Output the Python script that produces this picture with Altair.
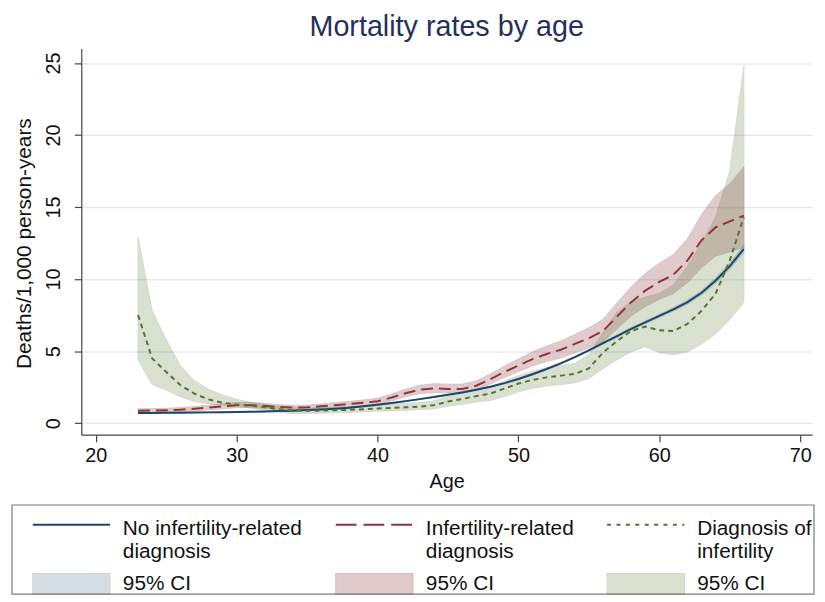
import altair as alt
import pandas as pd

# ---------------- data ----------------
ages = list(range(23, 67))

none_rate = [0.70, 0.71, 0.72, 0.73, 0.74, 0.75, 0.76, 0.77, 0.79, 0.81, 0.84, 0.87, 0.91,
             0.95, 1.00, 1.07, 1.17, 1.28, 1.40, 1.53, 1.67, 1.82, 1.97, 2.13, 2.32, 2.53,
             2.78, 3.07, 3.40, 3.76, 4.15, 4.58, 5.05, 5.55, 6.05, 6.55, 7.00, 7.45, 7.90,
             8.40, 9.05, 9.90, 10.90, 12.10]
none_lo = [0.67, 0.68, 0.69, 0.70, 0.71, 0.72, 0.73, 0.74, 0.76, 0.78, 0.81, 0.84, 0.88,
           0.92, 0.97, 1.04, 1.14, 1.25, 1.37, 1.50, 1.64, 1.79, 1.94, 2.09, 2.28, 2.49,
           2.74, 3.03, 3.35, 3.71, 4.10, 4.52, 4.99, 5.47, 5.96, 6.46, 6.91, 7.35, 7.77,
           8.26, 8.90, 9.72, 10.68, 11.82]
none_hi = [0.73, 0.74, 0.75, 0.76, 0.77, 0.78, 0.79, 0.80, 0.82, 0.84, 0.87, 0.90, 0.94,
           0.98, 1.03, 1.10, 1.20, 1.31, 1.43, 1.56, 1.70, 1.85, 2.00, 2.17, 2.36, 2.57,
           2.82, 3.11, 3.45, 3.81, 4.20, 4.64, 5.11, 5.63, 6.14, 6.64, 7.09, 7.55, 8.03,
           8.54, 9.20, 10.08, 11.12, 12.38]

rel_rate = [0.87, 0.88, 0.90, 0.94, 1.00, 1.08, 1.17, 1.25, 1.25, 1.20, 1.12, 1.08, 1.10,
            1.17, 1.25, 1.33, 1.42, 1.52, 1.78, 2.08, 2.33, 2.42, 2.38, 2.38, 2.60, 3.05,
            3.55, 4.00, 4.45, 4.80, 5.10, 5.50, 5.90, 6.40, 7.40, 8.40, 9.20, 9.80, 10.30,
            11.30, 12.70, 13.60, 14.00, 14.40]
rel_lo = [0.75, 0.76, 0.78, 0.81, 0.86, 0.93, 1.01, 1.08, 1.08, 1.04, 0.97, 0.94, 0.96,
          1.02, 1.09, 1.16, 1.24, 1.33, 1.56, 1.84, 2.06, 2.13, 2.10, 2.10, 2.30, 2.72,
          3.17, 3.58, 3.98, 4.28, 4.53, 4.88, 5.22, 5.66, 6.55, 7.45, 8.10, 8.60, 9.00,
          9.75, 10.80, 11.60, 11.90, 12.20]
rel_hi = [1.00, 1.01, 1.03, 1.08, 1.15, 1.24, 1.34, 1.43, 1.43, 1.37, 1.28, 1.23, 1.25,
          1.33, 1.42, 1.51, 1.61, 1.73, 2.02, 2.36, 2.63, 2.74, 2.70, 2.70, 2.93, 3.42,
          3.96, 4.45, 4.95, 5.35, 5.70, 6.15, 6.62, 7.20, 8.35, 9.45, 10.40, 11.10, 11.70,
          12.80, 14.50, 15.80, 16.60, 17.80]

diag_rate = [7.50, 4.50, 3.55, 2.65, 2.05, 1.65, 1.42, 1.30, 1.22, 1.10, 0.97, 0.88, 0.86,
             0.87, 0.90, 0.93, 0.97, 1.02, 1.06, 1.10, 1.15, 1.25, 1.50, 1.68, 1.88, 2.05,
             2.40, 2.75, 3.00, 3.18, 3.30, 3.42, 3.80, 4.90, 5.70, 6.40, 6.70, 6.45, 6.40,
             6.90, 7.80, 9.00, 11.30, 14.30]
diag_lo = [4.40, 2.70, 2.30, 1.85, 1.50, 1.35, 1.28, 1.20, 1.05, 0.90, 0.78, 0.66, 0.68,
           0.70, 0.72, 0.75, 0.79, 0.84, 0.87, 0.90, 0.94, 1.00, 1.18, 1.32, 1.47, 1.58,
           1.85, 2.18, 2.42, 2.58, 2.68, 2.80, 3.10, 3.80, 4.40, 4.95, 5.30, 4.90, 4.75,
           4.95, 5.50, 6.20, 7.20, 8.40]
diag_hi = [12.90, 7.80, 5.80, 4.00, 2.95, 2.35, 1.95, 1.65, 1.45, 1.30, 1.15, 1.07, 1.06,
           1.07, 1.10, 1.14, 1.20, 1.27, 1.32, 1.37, 1.43, 1.55, 1.85, 2.05, 2.30, 2.52,
           2.90, 3.30, 3.60, 3.85, 4.00, 4.15, 4.75, 6.30, 7.70, 8.40, 8.75, 9.00, 9.60,
           10.90, 12.50, 14.30, 17.50, 24.80]

series_labels = ["No infertility-related|diagnosis",
                 "Infertility-related|diagnosis",
                 "Diagnosis of|infertility"]
ci_label = "95% CI"
x_ticks = [20, 30, 40, 50, 60, 70]
y_ticks = [0, 5, 10, 15, 20, 25]

title_text = "Mortality rates by age"
x_title = "Age"
y_title = "Deaths/1,000 person-years"

# ---------------- styling ----------------
FONT = "Liberation Sans"
TXT = "#111111"
AX = "#444444"
colors = ["#1a476f", "#90353b", "#55752f"]
edge_colors = ["#0f2a44", "#5c1f24", "#3a521e"]
band_opac = [0.18, 0.26, 0.22]
line_dash = [None, [12, 6], [5, 4]]
legend_dash = [None, [21, 7], [4, 5.5]]
legend_x = [-50, 256, 530]
LINE_LEG_Y = 434.5
CI_LEG_Y = 500.5

x_axis = alt.Axis(values=x_ticks, grid=False, domainColor=AX, domainWidth=1.2,
                  tickColor=AX, tickWidth=1.2, tickSize=7, labelFlush=False,
                  labelFont=FONT, labelFontSize=20, labelColor=TXT, labelPadding=4,
                  titleFont=FONT, titleFontSize=20, titleFontWeight="normal",
                  titleColor=TXT, titleBaseline="alphabetic", titleY=53)
y_axis = alt.Axis(values=y_ticks, grid=True, gridColor="#e3ebf0", gridWidth=1.5,
                  domainColor=AX, domainWidth=1.2, tickColor=AX, tickWidth=1.2,
                  tickSize=7, labelFlush=False, labelAngle=270, labelAlign="center",
                  labelBaseline="bottom", labelPadding=11, labelFont=FONT,
                  labelFontSize=20, labelColor=TXT, titleFont=FONT, titleFontSize=21,
                  titleFontWeight="normal", titleColor=TXT, titleAngle=270,
                  titleAlign="center", titleBaseline="middle", titleX=-57, titleY=196.5)

x_scale = alt.Scale(domain=[18.97, 70.84], nice=False, zero=False)
y_scale = alt.Scale(domain=[-0.8, 26.0], nice=False, zero=False)


def X():
    return alt.X("age:Q", scale=x_scale, axis=x_axis, title=x_title)


def Y(field):
    return alt.Y(f"{field}:Q", scale=y_scale, axis=y_axis, title=y_title)


series = [(none_rate, none_lo, none_hi), (rel_rate, rel_lo, rel_hi),
          (diag_rate, diag_lo, diag_hi)]

areas, lines = [], []
for i, (rate, lo, hi) in enumerate(series):
    df = pd.DataFrame({"age": ages, "rate": rate, "lo": lo, "hi": hi,
                       "series": series_labels[i], "ci": ci_label})
    area = alt.Chart(df).mark_area(
        opacity=band_opac[i], stroke=edge_colors[i], strokeWidth=1
    ).encode(
        x=X(), y=Y("lo"), y2="hi:Q",
        fill=alt.Fill("ci:N", title=None,
                      scale=alt.Scale(domain=[ci_label], range=[colors[i]]),
                      legend=alt.Legend(orient="none", legendX=legend_x[i], legendY=CI_LEG_Y,
                                        padding=0, offset=0,
                                        symbolType="M-1,-0.26L1,-0.26L1,0.26L-1,0.26Z",
                                        symbolSize=6084, symbolStrokeColor=edge_colors[i],
                                        symbolStrokeWidth=1.2, symbolOpacity=band_opac[i],
                                        labelFont=FONT, labelFontSize=21, labelColor=TXT,
                                        labelBaseline="middle", labelOffset=12,
                                        labelLimit=400))
    )
    areas.append(area)

    leg_kw = dict(orient="none", legendX=legend_x[i], legendY=LINE_LEG_Y, padding=0,
                  offset=0, symbolType="M-1,0.167L1,0.167", symbolSize=6084,
                  symbolStrokeWidth=2, labelExpr="split(datum.label, '|')",
                  labelFont=FONT, labelFontSize=21, labelColor=TXT, labelBaseline="top",
                  labelOffset=12, labelLimit=400)
    if legend_dash[i]:
        leg_kw["symbolDash"] = legend_dash[i]
    mk = dict(strokeWidth=2)
    if line_dash[i]:
        mk["strokeDash"] = line_dash[i]
    line = alt.Chart(df).mark_line(**mk).encode(
        x=X(), y=Y("rate"),
        color=alt.Color("series:N", title=None,
                        scale=alt.Scale(domain=[series_labels[i]], range=[colors[i]]),
                        legend=alt.Legend(**leg_kw))
    )
    lines.append(line)

box = alt.Chart(pd.DataFrame({"k": [0]})).mark_rect(
    filled=False, stroke="#7a7a7a", strokeWidth=1.2
).encode(x=alt.value(-70), x2=alt.value(740), y=alt.value(461), y2=alt.value(551))

chart = alt.layer(box, *areas, *lines).resolve_scale(
    color="independent", fill="independent"
).resolve_legend(
    color="independent", fill="independent"
).properties(
    width=738, height=390,
    title=alt.TitleParams(title_text, font=FONT, fontSize=29, fontWeight="normal",
                          color="#27305a", anchor="middle", frame="group",
                          baseline="alphabetic", offset=11, dy=27),
    autosize=alt.AutoSizeParams(type="none"),
    padding={"left": 74, "top": 38, "right": 5, "bottom": 166},
).configure_view(stroke="transparent")

chart.save("out.html", embed_options={"renderer": "svg", "actions": False})
